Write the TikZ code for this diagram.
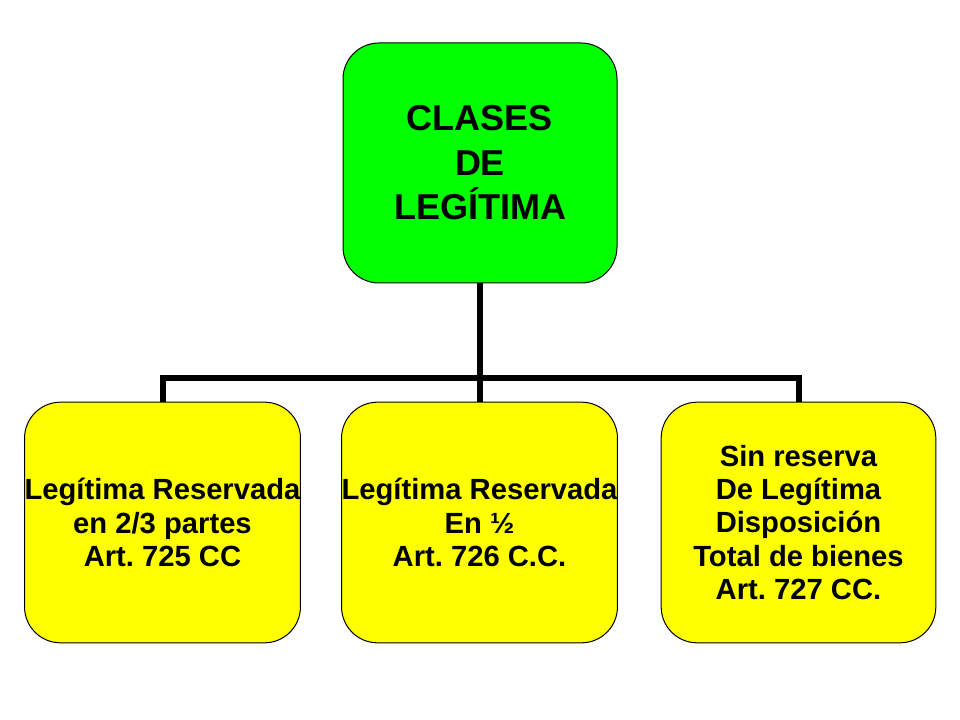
\documentclass[tikz,border=0pt]{standalone}
\usepackage{fontspec}
\setmainfont{Liberation Sans}
\usepackage{tikz}
\usetikzlibrary{calc}
\frenchspacing
\definecolor{boxgreen}{RGB}{0,255,0}
\definecolor{boxyellow}{RGB}{255,255,0}
\tikzset{
	topbox/.style={draw=black, line width=0.75pt, fill=boxgreen, rounded corners=27pt,
		minimum width=205.5pt, minimum height=180pt, align=center,
		font=\fontsize{27}{33.4}\selectfont\bfseries},
	subbox/.style={draw=black, line width=0.75pt, fill=boxyellow, rounded corners=27pt,
		minimum width=206pt, minimum height=180.5pt, align=center, inner sep=0pt,
		font=\fontsize{21.9}{25}\selectfont\bfseries},
	conn/.style={line width=4.5pt, color=black}
}

\begin{document}
\begin{tikzpicture}[x=0.75pt, y=-0.75pt]
		%%%%% START %%%%%
		
		\useasboundingbox (0, 0) rectangle (960, 720);
		
		\node[topbox] (clases) at (480, 163) {CLASES\\DE\\LEGÍTIMA};
		
		\node[subbox] (reserva) at (162.5, 522.5) {Legítima Reservada\\en 2/3 partes\\Art. 725 CC};
		\node[subbox] (mitad) at (479.5, 522.5) {Legítima Reservada\\En ½\\Art. 726 C.C.};
		\node[subbox] (libre) at (798.5, 522.5) {Sin reserva\\De Legítima\\Disposición\\Total de bienes\\Art. 727 CC.};
		
		\coordinate (bus) at (480, 378);
		
		\draw[conn] (clases.south) -- (bus);
		\draw[conn] (reserva.north) -- (reserva.north |- bus) -- (libre.north |- bus) -- (libre.north);
		\draw[conn] (mitad.north) -- (mitad.north |- bus);
		
		%%%%% END %%%%%
	\end{tikzpicture}
\end{document}
